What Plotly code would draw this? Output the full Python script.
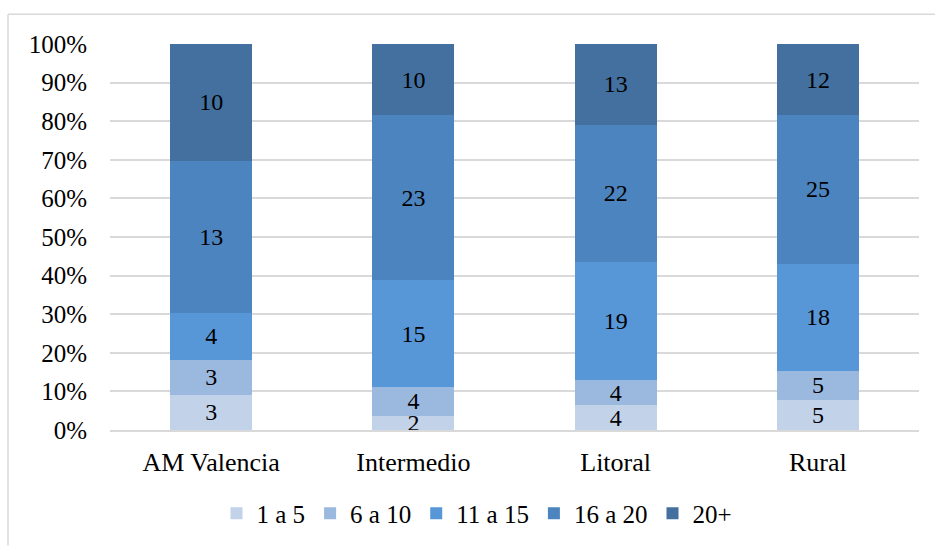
import plotly.graph_objects as go

# Categories and counts per group (stacked to 100%)
zones = ["AM Valencia", "Intermedio", "Litoral", "Rural"]
series_names = ["1 a 5", "6 a 10", "11 a 15", "16 a 20", "20+"]
v_1_5 = [3, 2, 4, 5]
v_6_10 = [3, 4, 4, 5]
v_11_15 = [4, 15, 19, 18]
v_16_20 = [13, 23, 22, 25]
v_20_plus = [10, 10, 13, 12]
series_values = [v_1_5, v_6_10, v_11_15, v_16_20, v_20_plus]
colors = ["#c1d2e9", "#9bb8de", "#5797d8", "#4c84bf", "#43709f"]
y_ticks = [0, 10, 20, 30, 40, 50, 60, 70, 80, 90, 100]
y_tick_labels = [f"{t}%" for t in y_ticks]

FONT = "Liberation Serif, Times New Roman, serif"

fig = go.Figure()
for name, vals, col in zip(series_names, series_values, colors):
    fig.add_trace(go.Bar(
        x=zones, y=vals, name=name,
        marker=dict(color=col, line=dict(width=0)),
        text=[str(v) for v in vals],
        textposition="inside",
        insidetextanchor="middle",
        textangle=0,
        constraintext="none",
        textfont=dict(family=FONT, size=24, color="#000000"),
        hoverinfo="skip",
    ))

W, H = 935, 548
ml, mr, mt, mb = 110, 16, 44, 116
pw, ph = W - ml - mr, H - mt - mb

def px_x(p):
    return (p - ml) / pw

def px_y(p):
    return (H - mb - p) / ph

fig.update_layout(
    width=W, height=H,
    barmode="stack", barnorm="percent", bargap=0.595,
    margin=dict(l=ml, r=mr, t=mt, b=mb, pad=0),
    paper_bgcolor="white", plot_bgcolor="white",
    font=dict(family=FONT, size=25, color="#000000"),
    showlegend=True,
    legend=dict(
        orientation="h", x=px_x(477), xanchor="center", y=px_y(516), yanchor="middle",
        font=dict(family=FONT, size=25, color="#000000"),
        itemwidth=30, tracegroupgap=0, traceorder="normal",
    ),
    xaxis=dict(
        showgrid=False, showline=True, linecolor="#d9d9d9", linewidth=1.5,
        ticks="", tickfont=dict(family=FONT, size=26), ticklabelstandoff=8,
    ),
    yaxis=dict(
        range=[0, 100], tickvals=y_ticks, ticktext=y_tick_labels,
        showgrid=True, gridcolor="#d9d9d9", gridwidth=1.5,
        zeroline=False, showline=False, ticks="",
        tickfont=dict(family=FONT, size=25), ticklabelstandoff=22,
    ),
    shapes=[
        dict(type="line", xref="paper", yref="paper",
             x0=px_x(8), x1=px_x(935), y0=px_y(14), y1=px_y(14),
             line=dict(color="#d9d9d9", width=1.5)),
        dict(type="line", xref="paper", yref="paper",
             x0=px_x(8), x1=px_x(8), y0=px_y(14), y1=px_y(548),
             line=dict(color="#d9d9d9", width=1.5)),
    ],
)

fig.write_html("out.html")
